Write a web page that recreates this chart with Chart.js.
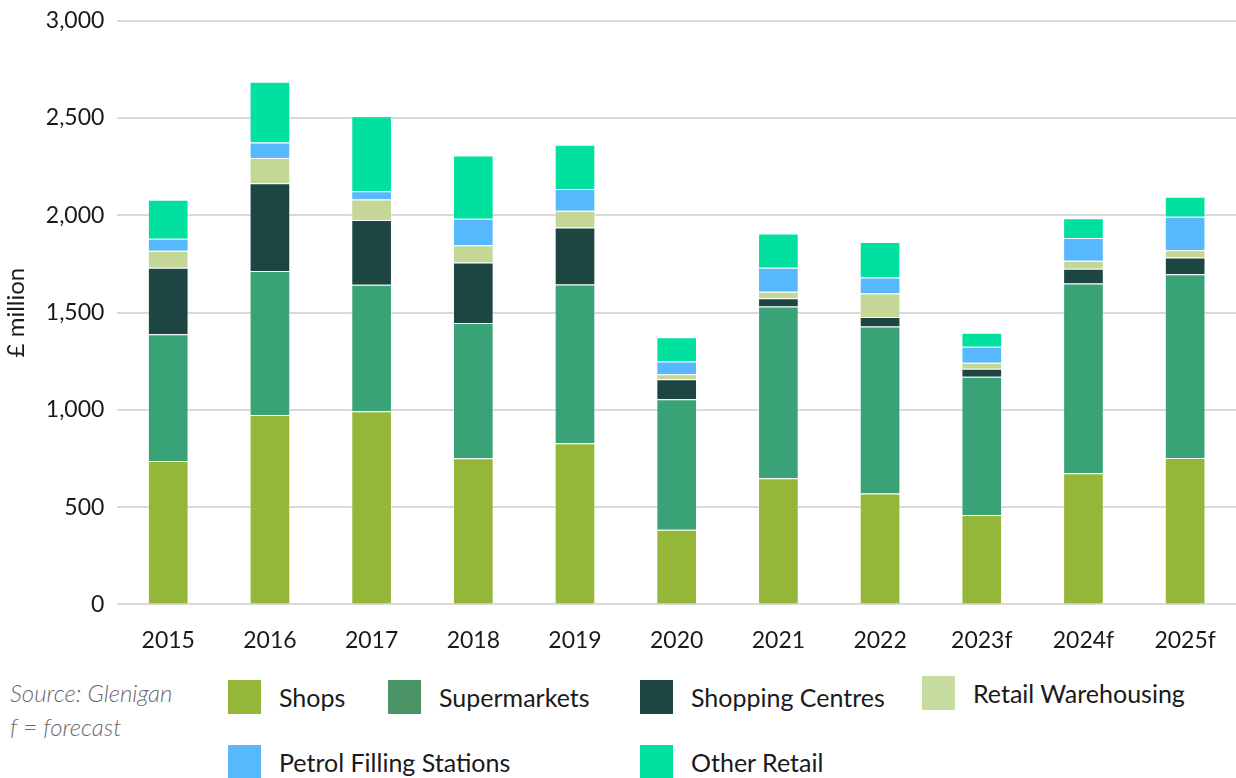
<!DOCTYPE html>
<html>
<head>
<meta charset="utf-8">
<script src="https://cdn.jsdelivr.net/npm/chart.js@4/dist/chart.umd.min.js"></script>
<style>
  body { margin: 0; background: #fff; font-family: Lato, 'Noto Sans', sans-serif; }
  #wrap { position: relative; width: 1236px; height: 778px; overflow: hidden; }
  #chart-box { position: absolute; left: 0; top: -6px; width: 1236px; height: 680px; }
  .source { position: absolute; left: 10px; top: 676px; font-size: 24px; line-height: 34px; font-style: italic; font-weight: 300; color: #6b6b6b; }
  .legend-item { position: absolute; display: flex; align-items: center; font-size: 25px; color: #1a1a1a; }
  .swatch { width: 33px; height: 34px; margin-right: 18px; }
</style>
</head>
<body>
<div id="wrap">
  <div id="chart-box"><canvas id="retail-chart"></canvas></div>
  <div class="source">Source: Glenigan<br>f = forecast</div>
  <div id="legend"></div>
</div>
<script>
const years = ['2015', '2016', '2017', '2018', '2019', '2020', '2021', '2022', '2023f', '2024f', '2025f'];

const shops         = [737, 973, 993, 751, 828, 384, 648, 570, 459, 674, 753];
const supermarkets  = [652, 741, 650, 695, 816, 670, 883, 859, 711, 975, 944];
const shoppingCtrs  = [342, 451, 333, 312, 293, 103, 43, 48, 41, 77, 86];
const retailWarehse = [87, 130, 106, 88, 87, 26, 33, 121, 31, 40, 37];
const petrolStations = [61, 80, 42, 137, 111, 66, 123, 82, 82, 118, 173];
const otherRetail   = [201, 312, 385, 325, 228, 124, 176, 183, 72, 101, 103];

const yTicks = [0, 500, 1000, 1500, 2000, 2500, 3000];

const series = [
  { label: 'Shops', data: shops, color: '#94b73a', legendColor: '#94b73a' },
  { label: 'Supermarkets', data: supermarkets, color: '#3aa277', legendColor: '#4a9468' },
  { label: 'Shopping Centres', data: shoppingCtrs, color: '#1d4643', legendColor: '#1d4643' },
  { label: 'Retail Warehousing', data: retailWarehse, color: '#c4d796', legendColor: '#c9dca0' },
  { label: 'Petrol Filling Stations', data: petrolStations, color: '#57b8fd', legendColor: '#57b8fd' },
  { label: 'Other Retail', data: otherRetail, color: '#00e1a0', legendColor: '#00e1a0' },
];

// legend positions, matching the two rows under the chart
const legendSpots = [[228, 680], [388, 680], [640, 680], [922, 676], [228, 745], [640, 745]];

function buildLegend() {
  const box = document.getElementById('legend');
  box.innerHTML = series.map((s, i) => {
    const [x, y] = legendSpots[i];
    return `<div class="legend-item" style="left:${x}px;top:${y}px">
      <div class="swatch" style="background:${s.legendColor}"></div>${s.label}</div>`;
  }).join('');
}

function renderChart() {
  const ctx = document.getElementById('retail-chart').getContext('2d');
  new Chart(ctx, {
    type: 'bar',
    data: {
      labels: years,
      datasets: series.map(s => ({
        label: s.label,
        data: s.data,
        backgroundColor: s.color,
        borderColor: 'rgba(255,255,255,0.35)',
        borderWidth: 1,
        barPercentage: 0.4,
        categoryPercentage: 1,
      })),
    },
    options: {
      responsive: true,
      maintainAspectRatio: false,
      animation: false,
      layout: { padding: { top: 3, right: 0, left: 0, bottom: 6 } },
      plugins: { legend: { display: false }, tooltip: { enabled: false } },
      scales: {
        x: {
          stacked: true,
          grid: { display: false },
          border: { display: false },
          ticks: { color: '#1a1a1a', font: { family: 'Lato', size: 23 }, padding: 14 },
        },
        y: {
          stacked: true,
          min: 0,
          max: 3000,
          afterBuildTicks: axis => { axis.ticks = yTicks.map(v => ({ value: v })); },
          grid: { color: '#d9d9d9', lineWidth: 2, drawTicks: false },
          border: { display: false },
          ticks: {
            color: '#1a1a1a',
            font: { family: 'Lato', size: 23 },
            padding: 13,
            callback: v => v.toLocaleString('en-GB'),
          },
          title: { display: true, text: '£ million', color: '#1a1a1a', font: { family: 'Lato', size: 24 }, padding: 2 },
        },
      },
    },
  });
}

buildLegend();
renderChart();
</script>
</body>
</html>
